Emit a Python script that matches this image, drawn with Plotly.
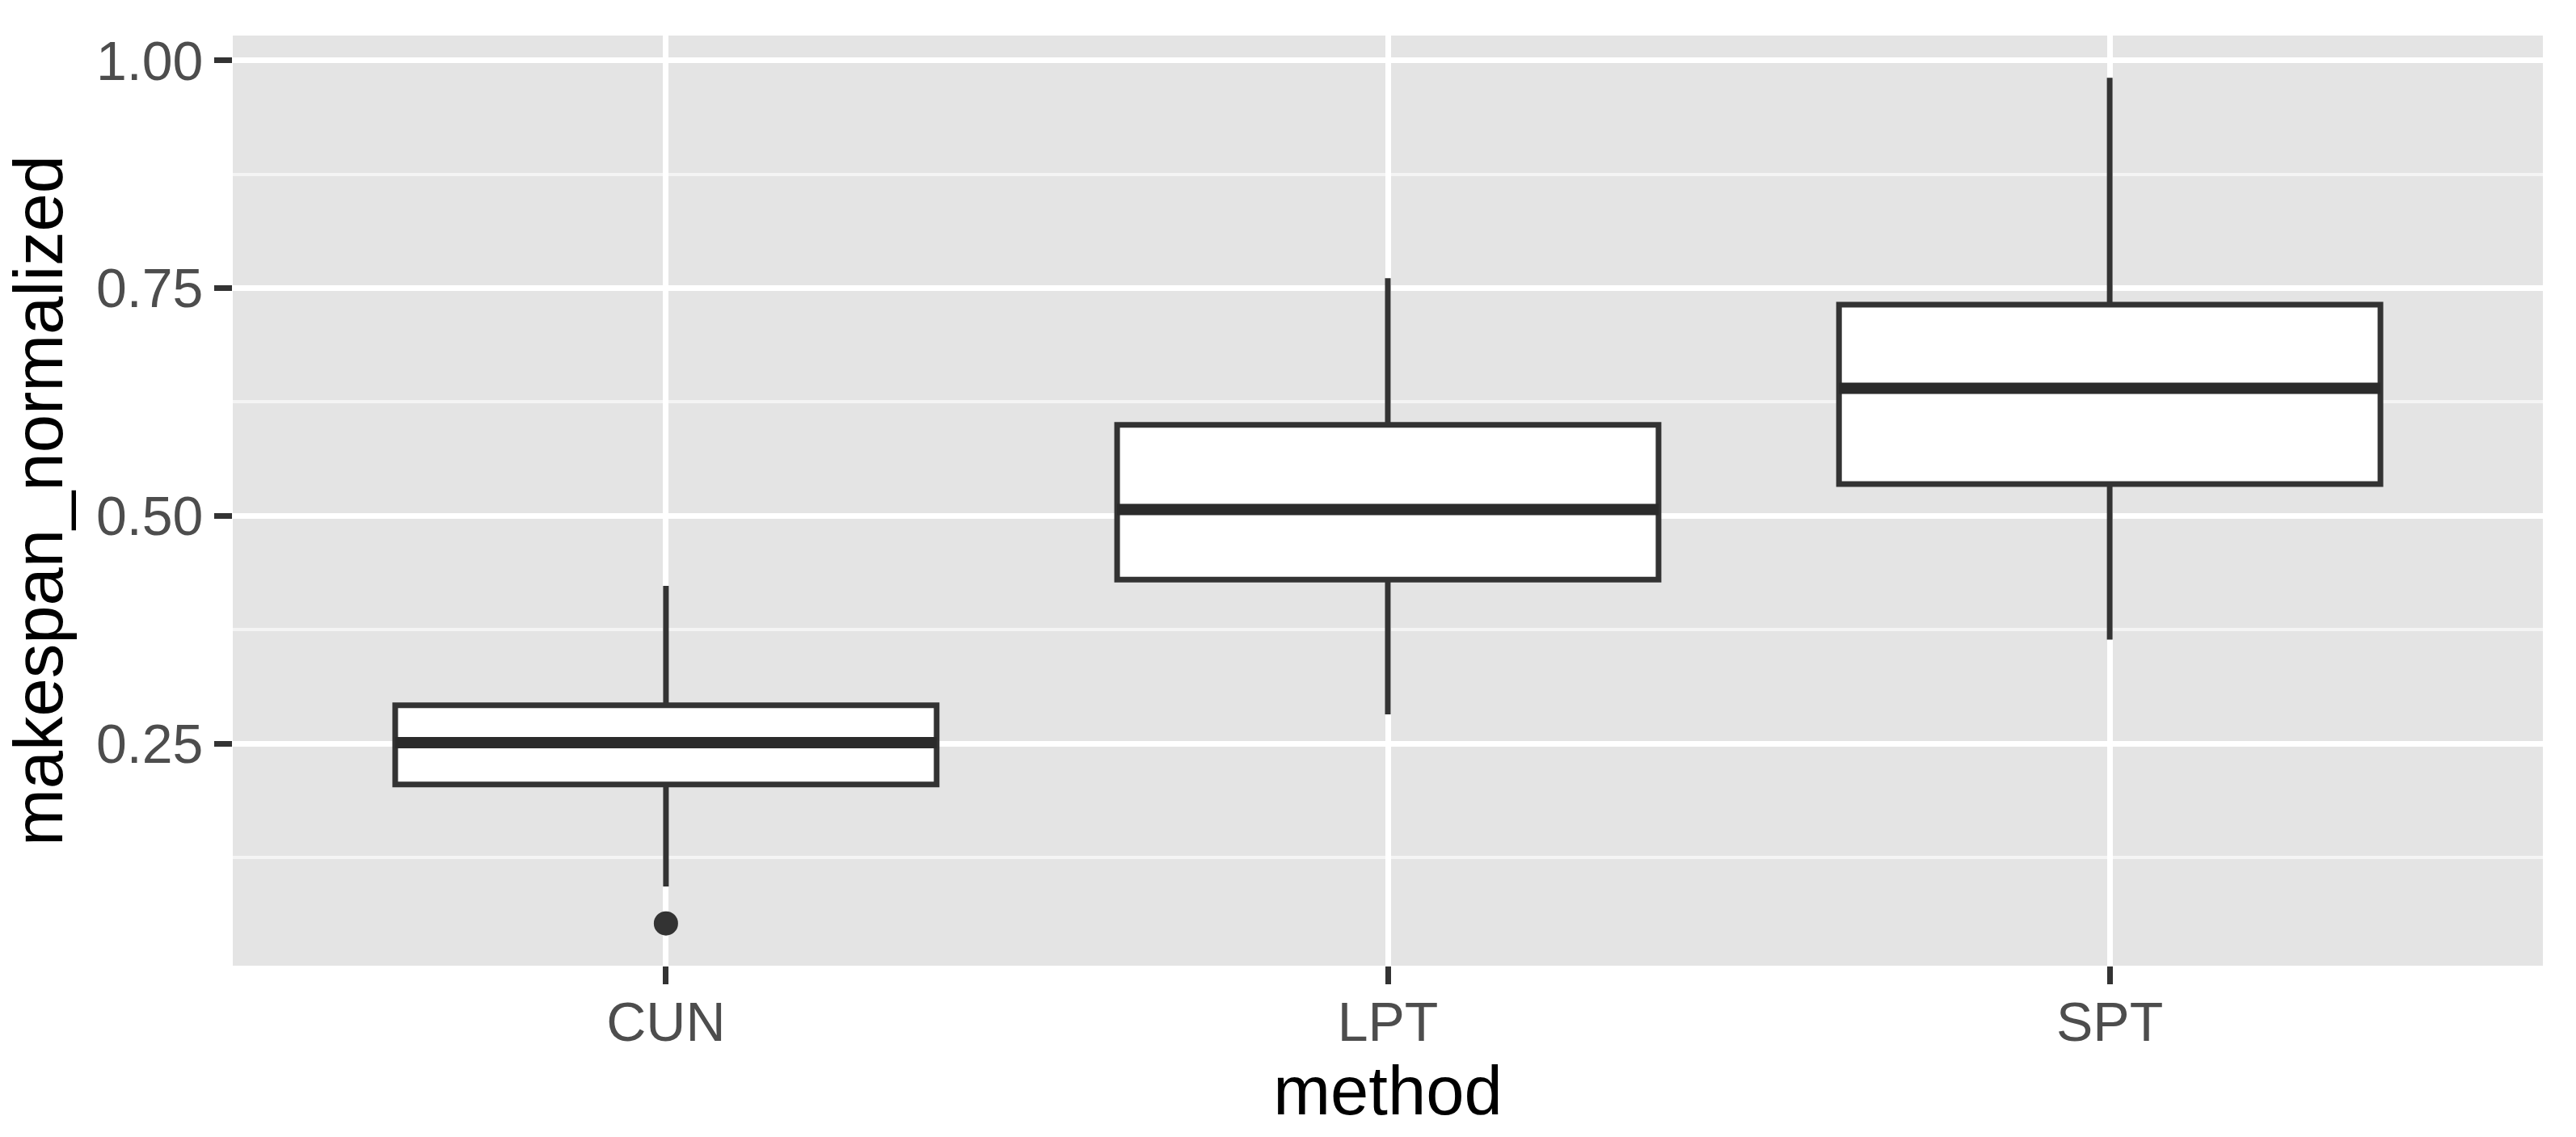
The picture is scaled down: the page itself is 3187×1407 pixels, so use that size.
import plotly.graph_objects as go

# box statistics
methods = ["CUN", "LPT", "SPT"]
lower_whisker = [0.093, 0.282, 0.364]
q1 = [0.205, 0.430, 0.535]
median = [0.251, 0.507, 0.640]
q3 = [0.292, 0.600, 0.732]
upper_whisker = [0.423, 0.761, 0.981]

# outliers
outlier_method = ["CUN"]
outlier_value = [0.0524]

# y range like ggplot (5% expansion of data range)
all_vals = lower_whisker + upper_whisker + outlier_value
lo, hi = min(all_vals), max(all_vals)
pad = 0.05 * (hi - lo)

fig = go.Figure()

# boxes
fig.add_trace(
    go.Box(
        x=methods,
        q1=q1,
        median=median,
        q3=q3,
        lowerfence=lower_whisker,
        upperfence=upper_whisker,
        width=0.75,
        whiskerwidth=0,
        fillcolor="white",
        line=dict(color="#333333", width=7),
        boxpoints=False,
        showlegend=False,
        hoverinfo="skip",
    )
)

# thicker median bar drawn on top (ggplot fatten=2)
fig.add_trace(
    go.Box(
        x=methods,
        q1=median,
        median=median,
        q3=median,
        lowerfence=median,
        upperfence=median,
        width=0.75,
        whiskerwidth=0,
        fillcolor="rgba(0,0,0,0)",
        line=dict(color="#2b2b2b", width=14),
        boxpoints=False,
        showlegend=False,
        hoverinfo="skip",
    )
)

# outlier point
fig.add_trace(
    go.Scatter(
        x=outlier_method,
        y=outlier_value,
        mode="markers",
        marker=dict(size=30, color="#333333"),
        showlegend=False,
        hoverinfo="skip",
    )
)

fig.update_layout(
    width=3187,
    height=1407,
    margin=dict(l=288, r=41, t=44, b=212),
    paper_bgcolor="white",
    plot_bgcolor="#e4e4e4",
    boxmode="overlay",
    font=dict(family="Liberation Sans, Arial, sans-serif", color="#4d4d4d"),
)

fig.update_xaxes(
    type="category",
    categoryorder="array",
    categoryarray=methods,
    range=[-0.6, 2.6],
    showgrid=True,
    gridcolor="white",
    gridwidth=7,
    zeroline=False,
    showline=False,
    ticks="outside",
    ticklen=22,
    tickwidth=7,
    tickcolor="#333333",
    ticklabelstandoff=-12,
    tickfont=dict(size=68, color="#4d4d4d"),
    title=dict(text="method", font=dict(size=85, color="black"), standoff=6),
)

fig.update_yaxes(
    range=[lo - pad, hi + pad],
    tickvals=[0.25, 0.50, 0.75, 1.00],
    ticktext=["0.25", "0.50", "0.75", "1.00"],
    showgrid=True,
    gridcolor="white",
    gridwidth=7,
    minor=dict(
        tickvals=[0.125, 0.375, 0.625, 0.875],
        showgrid=True,
        gridcolor="#f4f4f4",
        gridwidth=4,
        ticks="",
    ),
    zeroline=False,
    showline=False,
    ticks="outside",
    ticklen=22,
    tickwidth=7,
    tickcolor="#333333",
    tickfont=dict(size=68, color="#4d4d4d"),
    title=dict(text="makespan_normalized", font=dict(size=85, color="black"), standoff=22),
)

# page body has a default margin; drop it so the figure fills the window
fig.write_html(
    "out.html",
    config={"displayModeBar": False},
    post_script="document.body.style.margin='0px';",
)
